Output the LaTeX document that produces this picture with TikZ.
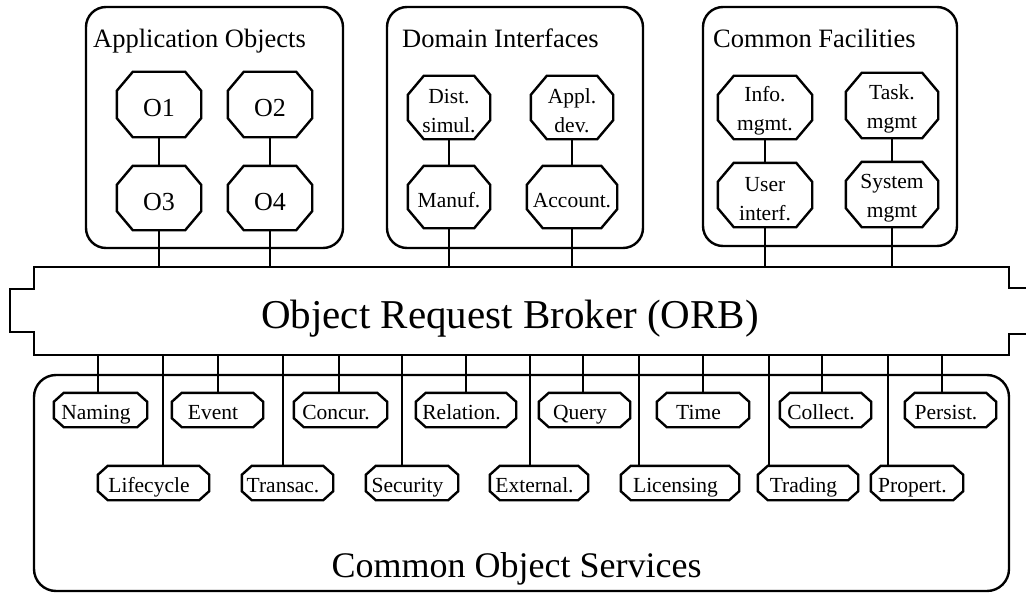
\documentclass[tikz,border=0pt]{standalone}
\usepackage{fontspec}
\setmainfont{Liberation Serif}
\usetikzlibrary{calc}
\newcommand{\octshape}[3]{%
  \draw[ln] ($(#1.north west)+(#2,0pt)$) -- ($(#1.north east)+(-#2,0pt)$)
    -- ($(#1.north east)+(0pt,-#3)$) -- ($(#1.south east)+(0pt,#3)$)
    -- ($(#1.south east)+(-#2,0pt)$) -- ($(#1.south west)+(#2,0pt)$)
    -- ($(#1.south west)+(0pt,#3)$) -- ($(#1.north west)+(0pt,-#3)$) -- cycle;}
\newcommand{\tallfirst}{\rule{0pt}{21.5pt}}
\begin{document}
\begin{tikzpicture}[x=1pt,y=-1pt,
  ln/.style={line width=2.4pt, line join=miter},
  grp/.style={ln, rounded corners=20pt},
  title/.style={anchor=base west, inner sep=0pt, font=\fontsize{26.5pt}{30pt}\selectfont},
  obj/.style={inner sep=0pt, minimum width=84pt, minimum height=65pt, font=\fontsize{26pt}{30pt}\selectfont, text height=24pt, text depth=0pt},
  twoline/.style={inner sep=0pt, minimum height=63pt, align=center, font=\fontsize{21.5pt}{29pt}\selectfont},
  oneline/.style={inner sep=0pt, minimum height=63pt, font=\fontsize{21.5pt}{29pt}\selectfont, text height=20pt, text depth=0pt},
  svc/.style={inner sep=0pt, minimum height=34pt, font=\fontsize{21.5pt}{26pt}\selectfont, text height=18pt, text depth=0pt, execute at end node={\hspace{9pt}}}]
\useasboundingbox (0,0) rectangle (1026,594);
\clip (0,0) rectangle (1026,594);

% group boxes
\draw[grp] (86,7) rectangle (343,248);
\draw[grp] (387,7) rectangle (643,248);
\draw[grp] (703,7) rectangle (957,246);
\node[title] (tapp) at (93,48) {Application Objects};
\node[title] (tdom) at (402,48) {Domain Interfaces};
\node[title] (tcf) at (713,48) {Common Facilities};

% ORB
\node[minimum width=975pt, minimum height=88pt, inner sep=0pt] (orb) at (521.5,311) {};
\draw[ln] (34,267) -- (1009,267) -- (1009,288) -- (1040,288) -- (1040,334) -- (1009,334)
  -- (1009,355) -- (34,355) -- (34,332) -- (10,332) -- (10,289) -- (34,289) -- cycle;
\node[anchor=base, inner sep=0pt, font=\fontsize{41pt}{48pt}\selectfont] (orbtext) at (510,328) {Object Request Broker (ORB)};

% Common Object Services
\draw[ln, rounded corners=22pt] (34,375) rectangle (1009,591);
\node[anchor=base, inner sep=0pt, font=\fontsize{36pt}{42pt}\selectfont] (costext) at (516.5,577) {Common Object Services};

% Application objects
\node[obj] (o1) at (159,104.5) {O1};
\node[obj] (o2) at (270,104.5) {O2};
\node[obj, minimum height=64pt] (o3) at (159,198) {O3};
\node[obj, minimum height=64pt] (o4) at (270,198) {O4};
% Domain interfaces
\node[twoline, minimum width=82pt] (dist) at (449,107.5) {\tallfirst Dist.\\simul.};
\node[twoline, minimum width=82pt] (appl) at (572,107.5) {\tallfirst Appl.\\dev.};
\node[oneline, minimum width=82pt, minimum height=62pt] (manuf) at (449,197) {Manuf.};
\node[oneline, minimum width=90pt, minimum height=62pt] (account) at (572,197) {Account.};
% Common facilities
\node[twoline, minimum width=94pt] (info) at (765,107.5) {\tallfirst Info.\\mgmt.};
\node[twoline, minimum width=92pt, minimum height=65pt] (task) at (892,105.5) {\tallfirst Task.\\mgmt};
\node[twoline, minimum width=94pt, minimum height=64pt] (user) at (765,195) {\tallfirst User\\interf.};
\node[twoline, minimum width=92pt, minimum height=65pt] (system) at (892,194.5) {\tallfirst System\\mgmt};

\foreach \n in {o1,o2,o3,o4,dist,appl,manuf,account,info,task,user,system}{\octshape{\n}{16pt}{19pt}}

\foreach \a/\b in {o1/o3,o2/o4,dist/manuf,appl/account,info/user,task/system}{
  \draw[ln] (\a.south) -- (\b.north);
  \draw[ln] (\b.south) -- (\b.south |- orb.north);
}

% services
\foreach \n/\x/\y/\w/\lx/\t in {
  naming/100.5/410/93/98/Naming,
  event/217.5/410/91/218/Event,
  concur/340.5/410/93/339/Concur.,
  relation/466/410/100/466/Relation.,
  query/584.5/410/91/583/Query,
  time/703/410/92/703/Time,
  collect/825.5/410/91/822/Collect.,
  persist/950.5/410/91/942/Persist.,
  lifecycle/153.5/483/111/163/Lifecycle,
  transac/287.5/483/91/283/Transac.,
  security/412/483/92/402/Security,
  external/539/483/98/530/External.,
  licensing/680/483/118/639/Licensing,
  trading/808/483/100/769/Trading,
  propert/917/483/92/888/Propert.}{
  \node[svc, minimum width=\w pt] (\n) at (\x,\y) {\t};
  \octshape{\n}{10pt}{9pt}
  \coordinate (l\n) at (\lx,355);
  \draw[ln] (l\n) -- (\n.north -| l\n);
}
\end{tikzpicture}
\end{document}
